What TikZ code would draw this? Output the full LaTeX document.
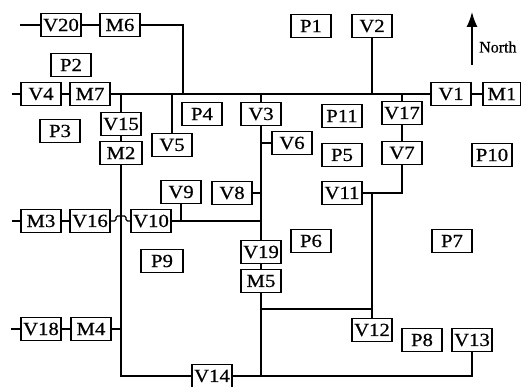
\documentclass[tikz,border=0pt]{standalone}
\usepackage{fontspec}
\setmainfont{Liberation Serif}
\newfontfamily\thickfont{Liberation Serif}[FakeBold=0.6]
\usetikzlibrary{arrows.meta}
\newcommand\bxt[1]{\scalebox{1.12}[1]{#1}}
\tikzset{
  box/.style={draw, line width=1.6pt, minimum width=40pt, minimum height=23pt, inner sep=0pt,
    font=\thickfont\fontsize{18.5}{18.5}\selectfont},
  wire/.style={line width=1.2pt},
}
\begin{document}
\begin{tikzpicture}[x=1pt,y=-1pt]
\useasboundingbox (0,0) rectangle (521,387);
% nodes
\node[box] (V20) at (61,25) {\bxt{V20}};
\node[box] (M6) at (120,25) {\bxt{M6}};
\node[box] (P1) at (311,26) {\bxt{P1}};
\node[box] (V2) at (372,26) {\bxt{V2}};
\node[box] (P2) at (71,65) {\bxt{P2}};
\node[box] (V4) at (41,94) {\bxt{V4}};
\node[box] (M7) at (90,94) {\bxt{M7}};
\node[box] (V1) at (451,94) {\bxt{V1}};
\node[box, minimum width=38pt] (M1) at (502,94) {\bxt{M1}};
\node[box] (P4) at (202,114) {\bxt{P4}};
\node[box] (V3) at (261,114) {\bxt{V3}};
\node[box] (P11) at (342,116) {\bxt{P11}};
\node[box] (V17) at (402,113) {\bxt{V17}};
\node[box] (V15) at (121,124) {\bxt{V15}};
\node[box] (P3) at (60,131) {\bxt{P3}};
\node[box, minimum width=42pt] (M2) at (121,153) {\bxt{M2}};
\node[box] (V5) at (172,145) {\bxt{V5}};
\node[box] (V6) at (292,143) {\bxt{V6}};
\node[box] (P5) at (342,155) {\bxt{P5}};
\node[box] (V7) at (402,153) {\bxt{V7}};
\node[box] (P10) at (492,155) {\bxt{P10}};
\node[box] (V9) at (181,192) {\bxt{V9}};
\node[box] (V8) at (232,193) {\bxt{V8}};
\node[box] (V11) at (342,193) {\bxt{V11}};
\node[box] (M3) at (41,221) {\bxt{M3}};
\node[box] (V16) at (90,221) {\bxt{V16}};
\node[box] (V10) at (151,221) {\bxt{V10}};
\node[box] (P6) at (311,241) {\bxt{P6}};
\node[box] (P7) at (452,241) {\bxt{P7}};
\node[box] (V19) at (261,252) {\bxt{V19}};
\node[box, minimum width=42pt] (P9) at (162,261) {\bxt{P9}};
\node[box] (M5) at (261,281) {\bxt{M5}};
\node[box] (V18) at (41,329) {\bxt{V18}};
\node[box] (M4) at (91,329) {\bxt{M4}};
\node[box] (V12) at (372,330) {\bxt{V12}};
\node[box] (P8) at (422,340) {\bxt{P8}};
\node[box] (V13) at (472,340) {\bxt{V13}};
\node[box] (V14) at (212,376) {\bxt{V14}};
% free ends
\coordinate (e20) at (20,25);
\coordinate (e4) at (12,94);
\coordinate (e3) at (12,221);
\coordinate (e18) at (11,329);
\coordinate (j6) at (183,94);
\coordinate (jm) at (261,309);
% connectors
\draw[wire] (e20) -- (V20.west);
\draw[wire] (V20.east) -- (M6.west);
\draw[wire] (M6.east) -| (j6);
\draw[wire] (e4) -- (V4.west);
\draw[wire] (V4.east) -- (M7.west);
\draw[wire] (M7.east) -- (V1.west);
\draw[wire] (V1.east) -- (M1.west);
\draw[wire] (V2.south) -- (V2.south |- M7.east);
\draw[wire] (V15.north) -- (V15.north |- M7.east);
\draw[wire] (V5.north) -- (V5.north |- M7.east);
\draw[wire] (V3.north) -- (V3.north |- M7.east);
\draw[wire] (V17.north) -- (V17.north |- M7.east);
\draw[wire] (V17.south) -- (V7.north);
\draw[wire] (V15.south) -- (M2.north);
\draw[wire] (M2.south) |- (V14.west);
\draw[wire] (M4.east) -- (M2.south |- M4.east);
\draw[wire] (e18) -- (V18.west);
\draw[wire] (V18.east) -- (M4.west);
\draw[wire] (e3) -- (M3.west);
\draw[wire] (M3.east) -- (V16.west);
\draw[wire, rounded corners=1.5pt] (V16.east) -- (116,221) -- (116,216) -- (126,216) -- (126,221) -- (V10.west);
\draw[wire] (V10.east) -- (V3.south |- V10.east);
\draw[wire] (V9.south) -- (V9.south |- V10.east);
\draw[wire] (V3.south) -- (V19.north);
\draw[wire] (V6.west) -- (V3.south |- V6.west);
\draw[wire] (V8.east) -- (V3.south |- V8.east);
\draw[wire] (V19.south) -- (M5.north);
\draw[wire] (M5.south) -- (M5.south |- V14.east);
\draw[wire] (V14.east) -| (V13.south);
\draw[wire] (V11.east) -| (V7.south);
\draw[wire] (V12.north) -- (V12.north |- V11.east);
\draw[wire] (jm) -- (jm -| V12.north);
% north arrow
\coordinate (na) at (472,65);
\coordinate (nb) at (472,12);
\draw[line width=1.5pt, -{Latex[length=15pt,width=11pt]}] (na) -- (nb);
\node[anchor=west, inner sep=0pt, font=\thickfont\fontsize{16}{16}\selectfont] (north) at (479,47) {North};
\end{tikzpicture}
\end{document}
